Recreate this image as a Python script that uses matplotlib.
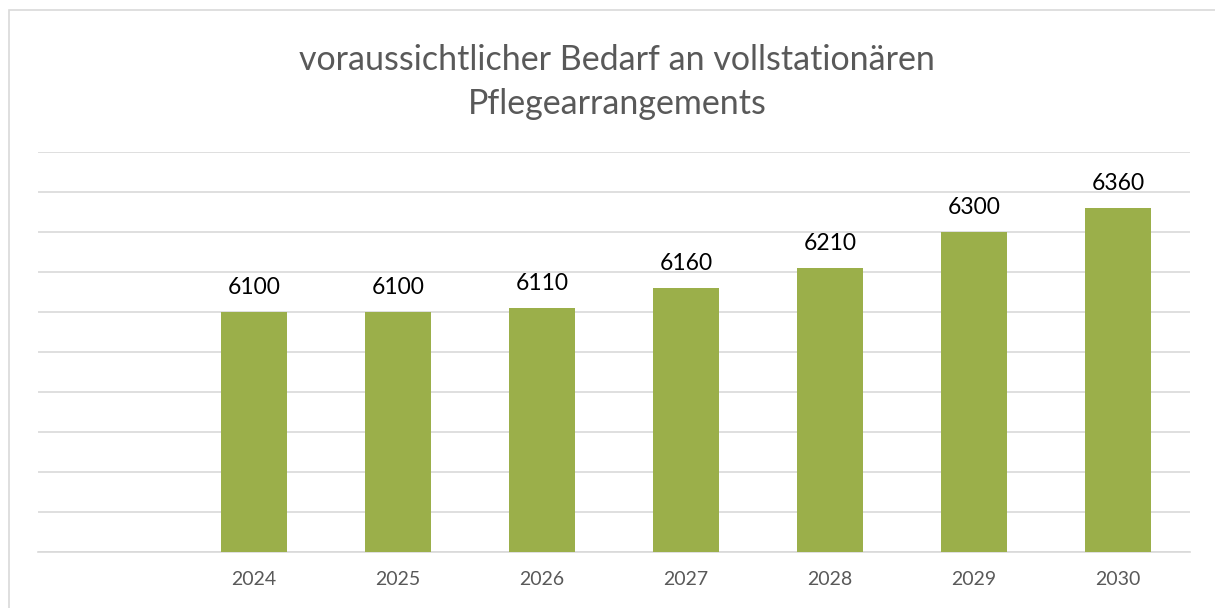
import matplotlib.pyplot as plt
from matplotlib.patches import Rectangle

# data
years = ['', '2024', '2025', '2026', '2027', '2028', '2029', '2030']
values = [None, 6100, 6100, 6110, 6160, 6210, 6300, 6360]

plt.rcParams['font.family'] = ['Lato', 'DejaVu Sans']

fig = plt.figure(figsize=(12.15, 6.08), dpi=100)
ax = fig.add_axes([38 / 1215, 1 - 552 / 608, (1190 - 38) / 1215, 400 / 608])

# chart frame (cut off on the right and bottom)
fig.patches.append(Rectangle((9 / 1215, -0.05), 1.2, 1 - 10 / 608 + 0.05,
                             transform=fig.transFigure, fill=False,
                             edgecolor='#D9D9D9', linewidth=1.2, zorder=0))

x = list(range(len(years)))
for i, v in enumerate(values):
    if v is None:
        continue
    ax.bar(i, v - 5500, bottom=5500, width=0.46, color='#9BAF4A', zorder=3)
    ax.text(i, v + 36, str(v), ha='center', va='bottom', fontsize=16.5, color='black')

ax.set_xlim(-0.5, len(years) - 0.5)
ax.set_ylim(5500, 6500)
ax.set_yticks(range(5500, 6501, 100))
ax.yaxis.grid(True, color='#D9D9D9', linewidth=1.2)
ax.set_yticklabels([])
ax.tick_params(axis='y', length=0)
ax.set_xticks(x)
ax.set_xticklabels(years, fontsize=14, color='#595959')
ax.tick_params(axis='x', length=0, pad=14)
for s in ['top', 'right', 'left']:
    ax.spines[s].set_visible(False)
ax.spines['bottom'].set_color('#D9D9D9')
ax.spines['bottom'].set_linewidth(1.2)
ax.set_axisbelow(True)

fig.text(0.508, 1 - 82 / 608, 'voraussichtlicher Bedarf an vollstationären\nPflegearrangements',
         ha='center', va='center', fontsize=24.5, color='#595959', linespacing=1.45)

plt.savefig('out.png')
